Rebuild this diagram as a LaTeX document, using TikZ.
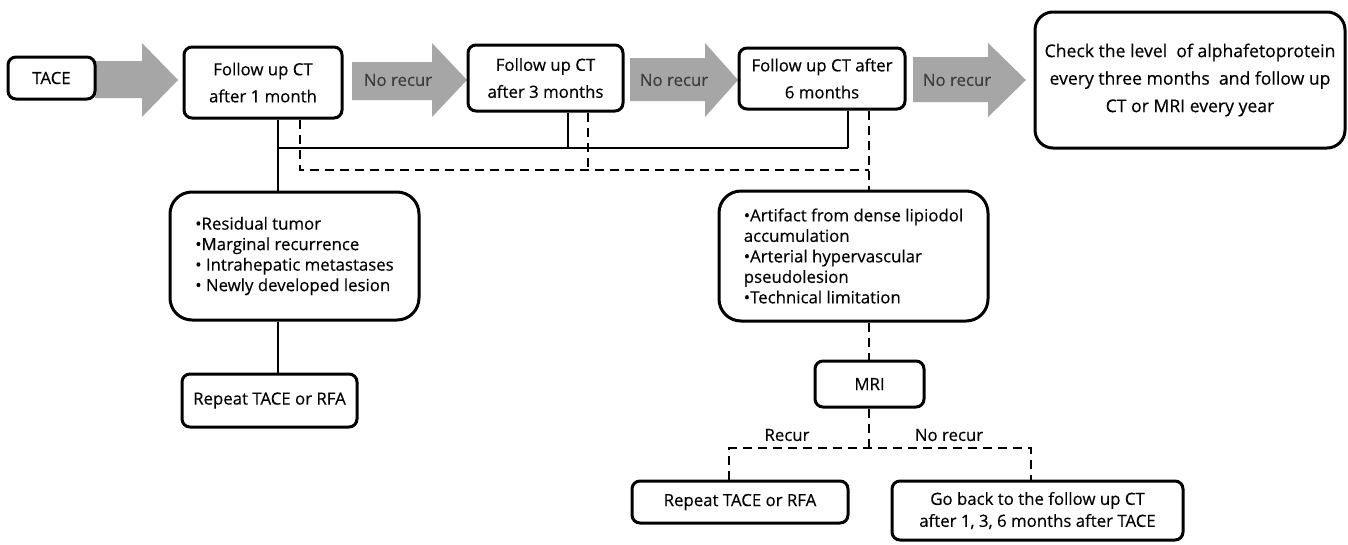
\documentclass[tikz,border=0pt]{standalone}
\usepackage{fontspec}
\setmainfont{Open Sans}[FakeBold=0.35]
\definecolor{arrowgray}{RGB}{166,166,166}
\definecolor{labelgray}{RGB}{60,60,60}
\begin{document}
\begin{tikzpicture}[x=1pt,y=-1pt,
  box/.style={draw=black, line width=3pt, rounded corners=8pt, fill=white, inner sep=0pt, align=center,
              font=\fontsize{16.8}{27}\selectfont},
  listbox/.style={box, rounded corners=22pt, align=left, font=\fontsize{16.8}{20.5}\selectfont},
  conn/.style={draw=black, line width=2.6pt},
  dconn/.style={draw=black, line width=2.3pt, dash pattern=on 9pt off 6pt},
  garrow/.style={fill=arrowgray},
  arrlbl/.style={text=labelgray, font=\fontsize{16.8}{18}\selectfont, inner sep=0pt},
  lbl/.style={text=black, font=\fontsize{16.8}{18}\selectfont, inner sep=0pt}]
\useasboundingbox (0,0) rectangle (1348,544);
\fill[white] (0,0) rectangle (1348,544);

% gray arrows
\fill[garrow] (95,61) -- (142,61) -- (142,43) -- (178,80) -- (142,117) -- (142,98) -- (95,98) -- cycle;
\fill[garrow] (352,62) -- (432,62) -- (432,43) -- (467,80) -- (432,117) -- (432,100) -- (352,100) -- cycle;
\fill[garrow] (630,58) -- (705,58) -- (705,43) -- (738,80) -- (705,117) -- (705,101) -- (630,101) -- cycle;
\fill[garrow] (913,57) -- (988,57) -- (988,43) -- (1026,80) -- (988,117) -- (988,102) -- (913,102) -- cycle;
\node[arrlbl] (nr1) at (398,80) {No recur};
\node[arrlbl] (nr2) at (674,80) {No recur};
\node[arrlbl] (nr3) at (957,80) {No recur};

% junction coordinates
\coordinate (s1) at (278,148);
\coordinate (s3) at (568,148);
\coordinate (s6) at (848,148);
\coordinate (d1) at (300,170);
\coordinate (d3) at (588,170);
\coordinate (d6) at (869,170);
\coordinate (m) at (869,448);
\coordinate (mL) at (729,448);
\coordinate (mR) at (1031,448);

% boxes
\node[box, minimum width=87pt, minimum height=42pt] (tace) at (51.5,78) {TACE};
\node[box, minimum width=158pt, minimum height=71pt] (f1) at (263,82.5) {Follow up CT\\after 1 month};
\node[box, minimum width=155pt, minimum height=66pt] (f3) at (545.5,78) {Follow up CT\\after 3 months};
\node[box, minimum width=166pt, minimum height=61pt] (f6) at (822,78.5) {Follow up CT after\\6 months};
\node[box, rounded corners=18pt, minimum width=310pt, minimum height=136pt,
      font=\fontsize{17.6}{27.5}\selectfont] (big) at (1190,80)
  {Check the level\ \ of alphafetoprotein\\every three months\ \ and follow up\\CT or MRI every year};
\node[listbox, minimum width=249pt, minimum height=128pt] (res) at (294.5,256)
  {\textbullet Residual tumor\\\textbullet Marginal recurrence\\\textbullet\ Intrahepatic metastases\\\textbullet\ Newly developed lesion};
\node[box, minimum width=175pt, minimum height=53pt] (rep1) at (269.5,400.5) {Repeat TACE or RFA};
\node[listbox, minimum width=269pt, minimum height=130pt] (art) at (853.5,256)
  {\textbullet Artifact from dense lipiodol\\accumulation\\\textbullet Arterial hypervascular\\pseudolesion\\\textbullet Technical limitation};
\node[box, minimum width=109pt, minimum height=46pt] (mri) at (869.5,384) {MRI};
\node[box, minimum width=216pt, minimum height=42pt] (rep2) at (740,502) {Repeat TACE or RFA};
\node[box, minimum width=291pt, minimum height=59pt] (goback) at (1037.5,510.5)
  {Go back to the follow up CT\\[-5pt]after 1, 3, 6 months after TACE};

% solid connectors
\draw[conn] (f1.south -| s1) -- (res.north -| s1);
\draw[conn] (s1) -- (s6);
\draw[conn] (f3.south -| s3) -- (s3);
\draw[conn] (f6.south -| s6) -- (s6);
\draw[conn] (res.south -| s1) -- (rep1.north -| s1);

% dashed connectors
\draw[dconn] (f1.south -| d1) -- (d1) -- (d6);
\draw[dconn] (f3.south -| d3) -- (d3);
\draw[dconn] (f6.south -| d6) -- (art.north -| d6);
\draw[dconn] (art.south -| d6) -- (mri.north -| d6);
\draw[dconn] (mri.south -| m) -- (m);
\draw[dconn] (rep2.north -| mL) -- (mL) -- (mR) -- (goback.north -| mR);

\node[lbl] (lrec) at (787,435) {Recur};
\node[lbl] (lnrec) at (949,435) {No recur};
\end{tikzpicture}
\end{document}
